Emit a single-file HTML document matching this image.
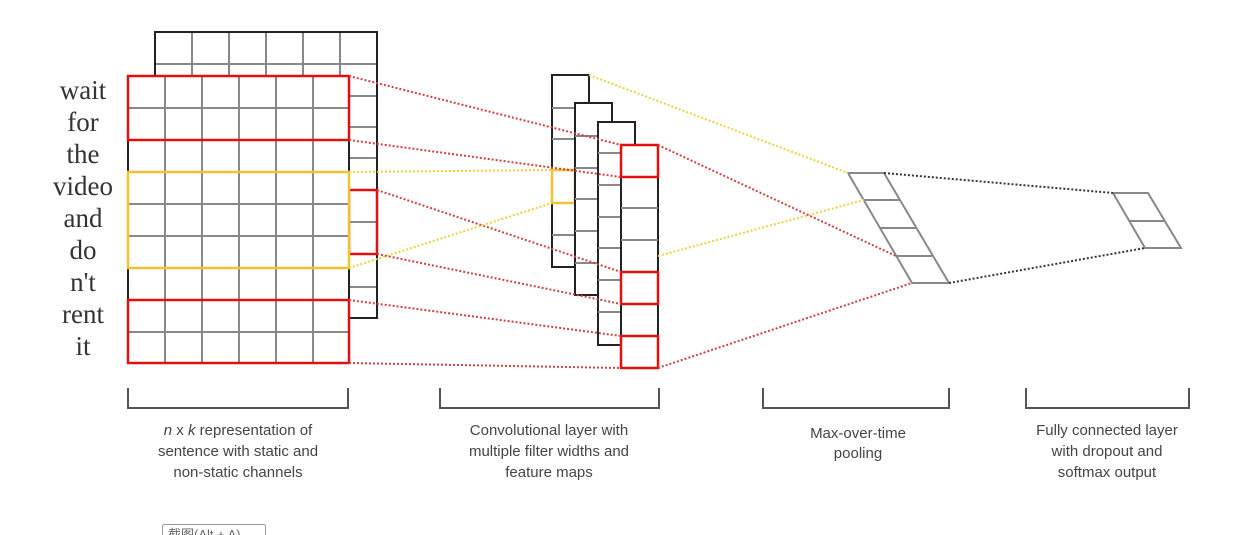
<!DOCTYPE html>
<html><head><meta charset="utf-8"><style>
html,body{margin:0;padding:0;background:#fff;}
svg{display:block}
</style></head><body>
<svg width="1235" height="535" viewBox="0 0 1235 535" xmlns="http://www.w3.org/2000/svg">
<rect width="1235" height="535" fill="#fff"/>
<!-- back matrix -->
<g stroke="#888" stroke-width="2" fill="none">
  <line x1="192" y1="32" x2="192" y2="76"/><line x1="229" y1="32" x2="229" y2="76"/><line x1="266" y1="32" x2="266" y2="76"/><line x1="303" y1="32" x2="303" y2="76"/><line x1="340" y1="32" x2="340" y2="76"/>
  <line x1="155" y1="64" x2="377" y2="64"/>
  <line x1="349" y1="96" x2="377" y2="96"/><line x1="349" y1="127" x2="377" y2="127"/><line x1="349" y1="158" x2="377" y2="158"/><line x1="349" y1="222" x2="377" y2="222"/><line x1="349" y1="287" x2="377" y2="287"/>
</g>
<polyline points="155,76 155,32 377,32 377,318 349,318" fill="none" stroke="#222" stroke-width="2"/>
<rect x="349" y="190" width="28" height="64" fill="none" stroke="#e01010" stroke-width="2.5"/>
<!-- front matrix -->
<rect x="128" y="76" width="221" height="287" fill="#fff"/>
<g stroke="#888" stroke-width="2">
  <line x1="165" y1="76" x2="165" y2="363"/><line x1="202" y1="76" x2="202" y2="363"/><line x1="239" y1="76" x2="239" y2="363"/><line x1="276" y1="76" x2="276" y2="363"/><line x1="313" y1="76" x2="313" y2="363"/>
  <line x1="128" y1="108" x2="349" y2="108"/><line x1="128" y1="140" x2="349" y2="140"/><line x1="128" y1="172" x2="349" y2="172"/><line x1="128" y1="204" x2="349" y2="204"/><line x1="128" y1="236" x2="349" y2="236"/><line x1="128" y1="268" x2="349" y2="268"/><line x1="128" y1="300" x2="349" y2="300"/><line x1="128" y1="332" x2="349" y2="332"/>
</g>
<rect x="128" y="76" width="221" height="287" fill="none" stroke="#222" stroke-width="2"/>
<rect x="128" y="76" width="221" height="64" fill="none" stroke="#e01010" stroke-width="2.5"/>
<rect x="128" y="172" width="221" height="96" fill="none" stroke="#f2c230" stroke-width="2.5"/>
<rect x="128" y="300" width="221" height="63" fill="none" stroke="#e01010" stroke-width="2.5"/>
<!-- words -->
<g font-family="Liberation Serif, serif" font-size="27" fill="#333" text-anchor="middle">
<text x="83" y="99">wait</text><text x="83" y="131">for</text><text x="83" y="163">the</text><text x="83" y="195">video</text><text x="83" y="227">and</text><text x="83" y="259">do</text><text x="83" y="291">n't</text><text x="83" y="323">rent</text><text x="83" y="355">it</text>
</g>
<!-- conv columns -->
<rect x="552" y="75" width="37" height="192" fill="#fff" stroke="#222" stroke-width="2"/>
<g stroke="#888" stroke-width="2"><line x1="552" y1="108" x2="575" y2="108"/><line x1="552" y1="139" x2="575" y2="139"/><line x1="552" y1="235" x2="575" y2="235"/></g>
<rect x="552" y="170" width="23" height="33" fill="none" stroke="#f2c230" stroke-width="2.5"/>
<rect x="575" y="103" width="37" height="192" fill="#fff" stroke="#222" stroke-width="2"/>
<g stroke="#888" stroke-width="2"><line x1="575" y1="136" x2="598" y2="136"/><line x1="575" y1="168" x2="598" y2="168"/><line x1="575" y1="199" x2="598" y2="199"/><line x1="575" y1="231" x2="598" y2="231"/><line x1="575" y1="263" x2="598" y2="263"/></g>
<rect x="598" y="122" width="37" height="223" fill="#fff" stroke="#222" stroke-width="2"/>
<g stroke="#888" stroke-width="2"><line x1="598" y1="153" x2="621" y2="153"/><line x1="598" y1="185" x2="621" y2="185"/><line x1="598" y1="217" x2="621" y2="217"/><line x1="598" y1="248" x2="621" y2="248"/><line x1="598" y1="280" x2="621" y2="280"/><line x1="598" y1="312" x2="621" y2="312"/></g>
<rect x="621" y="145" width="37" height="223" fill="#fff" stroke="#222" stroke-width="2"/>
<g stroke="#888" stroke-width="2"><line x1="621" y1="208" x2="658" y2="208"/><line x1="621" y1="240" x2="658" y2="240"/></g>
<g fill="none" stroke="#e01010" stroke-width="2.5">
<rect x="621" y="145" width="37" height="32"/><rect x="621" y="272" width="37" height="32"/><rect x="621" y="336" width="37" height="32"/>
</g>
<!-- pooling -->
<g stroke="#888" stroke-width="2" fill="none">
<polygon points="848,173 884,173 949,283 912,283"/>
<line x1="864" y1="200" x2="900" y2="200"/><line x1="880" y1="228" x2="916" y2="228"/><line x1="896" y1="256" x2="932" y2="256"/>
<polygon points="1113,193 1148,193 1181,248 1145,248"/>
<line x1="1129" y1="221" x2="1164" y2="221"/>
</g>
<!-- dotted connectors -->
<g fill="none" stroke-width="2" stroke-dasharray="2,2">
<g stroke="#d04040">
<line x1="349" y1="76" x2="621" y2="145"/><line x1="349" y1="140" x2="621" y2="177"/>
<line x1="377" y1="190" x2="621" y2="272"/><line x1="377" y1="254" x2="621" y2="304"/>
<line x1="349" y1="300" x2="621" y2="336"/><line x1="349" y1="363" x2="621" y2="368"/>
<line x1="658" y1="145" x2="896" y2="256"/><line x1="658" y1="368" x2="912" y2="283"/>
</g>
<g stroke="#f0d040">
<line x1="349" y1="172" x2="552" y2="170"/><line x1="349" y1="268" x2="552" y2="203"/>
<line x1="589" y1="75" x2="848" y2="173"/><line x1="658" y1="256" x2="864" y2="200"/>
</g>
<g stroke="#334">
<line x1="884" y1="173" x2="1113" y2="193"/><line x1="949" y1="283" x2="1145" y2="248"/>
</g>
</g>
<!-- brackets -->
<g fill="none" stroke="#555" stroke-width="2">
<polyline points="128,388 128,408 348,408 348,388"/>
<polyline points="440,388 440,408 659,408 659,388"/>
<polyline points="763,388 763,408 949,408 949,388"/>
<polyline points="1026,388 1026,408 1189,408 1189,388"/>
</g>
<g font-family="Liberation Sans, sans-serif" font-size="15" fill="#444" text-anchor="middle">
<text x="238" y="435"><tspan font-style="italic">n</tspan> x <tspan font-style="italic">k</tspan> representation of</text>
<text x="238" y="456">sentence with static and</text>
<text x="238" y="477">non-static channels</text>
<text x="549" y="435">Convolutional layer with</text>
<text x="549" y="456">multiple filter widths and</text>
<text x="549" y="477">feature maps</text>
<text x="858" y="438">Max-over-time</text>
<text x="858" y="458">pooling</text>
<text x="1107" y="435">Fully connected layer</text>
<text x="1107" y="456">with dropout and</text>
<text x="1107" y="477">softmax output</text>
</g>
<rect x="162.5" y="524.5" width="103" height="16" fill="#fff" stroke="#999" stroke-width="1" rx="2"/>
<text x="168" y="539" font-family="Liberation Sans, Noto Sans CJK SC, sans-serif" font-size="13" fill="#666">截图(Alt + A)</text>
</svg>
</body></html>
